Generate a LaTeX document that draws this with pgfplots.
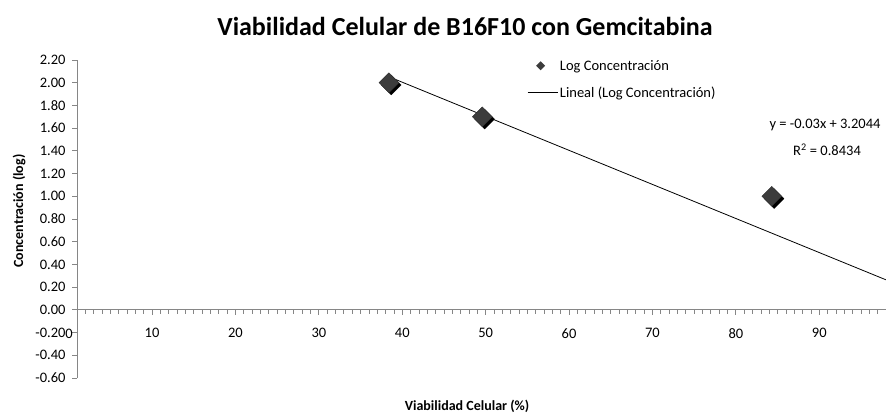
\documentclass[border=0pt]{standalone}
\usepackage{fontspec}
\setmainfont{Carlito}
\usepackage{pgfplots}
\pgfplotsset{compat=1.18}
\definecolor{axgray}{RGB}{134,134,134}
\definecolor{mkgray}{RGB}{60,60,60}
\begin{document}
\begin{tikzpicture}[x=1pt,y=1pt]
\useasboundingbox (0,0) rectangle (886,418);
\begin{axis}[
  at={(77pt,40pt)}, anchor=south west,
  width=809pt, height=318pt, scale only axis,
  xmin=1, xmax=98, ymin=-0.6, ymax=2.2,
  axis x line=middle, axis y line=left,
  axis line style={-, draw=axgray, line width=0.8pt},
  every tick/.style={draw=axgray, line width=0.8pt},
  tick align=outside,
  major tick length=5pt, minor tick length=4pt,
  xtick={10,20,...,90},
  minor xtick={2,3,...,97},
  ytick={-0.6,-0.4,...,2.2},
  /pgf/number format/assume math mode=true,
  yticklabel style={/pgf/number format/fixed, /pgf/number format/fixed zerofill, /pgf/number format/precision=2},
  y tick label style={font=\fontsize{14.5}{14.5}\selectfont, xshift=-3pt},
  xticklabel style={font=\fontsize{14.5}{14.5}\selectfont, yshift=-10pt},
  clip=false,
  legend style={at={(0.5525,1.013)}, anchor=north west, draw=none, fill=none,
    font=\fontsize{14.5}{16}\selectfont, row sep=11pt, cells={anchor=west},
    /tikz/every odd column/.append style={column sep=0pt}},
]
% shadow
\addplot[only marks, mark=square*, mark size=7pt, mark options={xshift=2.3pt, yshift=-2.3pt, rotate=45, fill=black, draw=black}, forget plot]
  coordinates {(38.4,2.00) (49.6,1.70) (84.3,1.00)};
\addplot[only marks, mark=square*, mark size=7pt, mark options={rotate=45, fill=mkgray, draw=mkgray!80!black},
  legend image code/.code={\path[draw=none,fill=none] (0pt,0pt) rectangle (30pt,0.1pt);\fill[mkgray,draw=none] (13pt,4.5pt)--(17.5pt,0pt)--(13pt,-4.5pt)--(8.5pt,0pt)--cycle;}]
  coordinates {(38.4,2.00) (49.6,1.70) (84.3,1.00)};
\addlegendentry{Log Concentración}
\addplot[black, line width=0.8pt,
  legend image code/.code={\draw[black, line width=0.8pt] (0pt,0pt)--(30pt,0pt);}]
  coordinates {(38.4,2.0524) (98,0.2644)};
\addlegendentry{Lineal (Log Concentración)}
\node[font=\fontsize{14.5}{14.5}\selectfont, xshift=0.5pt, yshift=-24pt] at (axis cs:0,0) {0};
\end{axis}
\node[font=\bfseries\fontsize{26}{28}\selectfont] at (465,392) {Viabilidad Celular de B16F10 con Gemcitabina};
\node[font=\bfseries\fontsize{14}{16}\selectfont] at (467,12) {Viabilidad Celular (\%)};
\node[font=\bfseries\fontsize{14}{16}\selectfont, rotate=90] at (19,207) {Concentración (log)};
\node[font=\fontsize{14.5}{16}\selectfont, anchor=east] at (884,293) {y = -0.03x + 3.2044};
\node[font=\fontsize{14.5}{16}\selectfont] at (827,268) {R\textsuperscript{2} = 0.8434};
\end{tikzpicture}
\end{document}
